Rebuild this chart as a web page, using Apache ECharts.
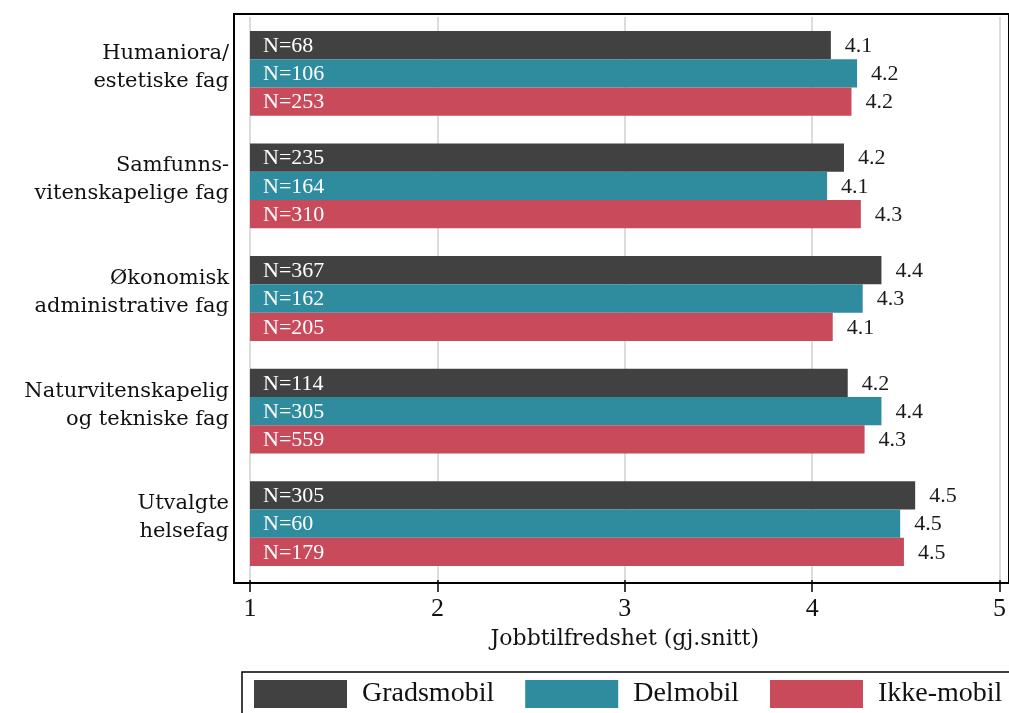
<!DOCTYPE html>
<html>
<head>
<meta charset="utf-8">
<script src="https://cdn.jsdelivr.net/npm/echarts@6/dist/echarts.min.js"></script>
<style>
  html, body { margin: 0; padding: 0; background: #fff; }
  #container { width: 1009px; height: 713px; }
</style>
</head>
<body>
<div id="container"></div>
<script>
// categories (top to bottom)
var categories = ['Humaniora/\nestetiske fag', 'Samfunns-\nvitenskapelige fag', 'Økonomisk\nadministrative fag', 'Naturvitenskapelig\nog tekniske fag', 'Utvalgte\nhelsefag'];
var groupNames = ['Gradsmobil', 'Delmobil', 'Ikke-mobil'];
var groupColors = ['#414141', '#2e8c9e', '#c84a5b'];

// mean job satisfaction per group
var gradsmobil = [4.10, 4.17, 4.37, 4.19, 4.55];
var delmobil   = [4.24, 4.08, 4.27, 4.37, 4.47];
var ikkemobil  = [4.21, 4.26, 4.11, 4.28, 4.49];

// number of respondents
var nGradsmobil = [68, 235, 367, 114, 305];
var nDelmobil   = [106, 164, 162, 305, 60];
var nIkkemobil  = [253, 310, 205, 559, 179];

var xTicks = [1, 2, 3, 4, 5];
var xName = 'Jobbtilfredshet (gj.snitt)';

var font = '"Liberation Serif"';
var wideFont = '"DejaVu Serif"';
var base = 1;

var values = [gradsmobil, delmobil, ikkemobil];
var counts = [nGradsmobil, nDelmobil, nIkkemobil];

function makeSeries(k) {
    var data = [];
    categories.forEach(function (c, i) {
        data.push([i, values[k][i], counts[k][i]]);
    });
    return {
        name: groupNames[k],
        type: 'custom',
        xAxisIndex: 0,
        yAxisIndex: 0,
        itemStyle: { color: groupColors[k] },
        encode: { x: 1, y: 0 },
        data: data,
        renderItem: function (params, api) {
            var cat = api.value(0);
            var val = api.value(1);
            var n = api.value(2);
            var start = api.coord([base, cat]);
            var end = api.coord([val, cat]);
            var band = api.size([0, 1])[1];
            var bh = band * 0.251;
            var yc = start[1] + (k - 1) * bh;
            return {
                type: 'group',
                children: [{
                    type: 'rect',
                    shape: { x: start[0], y: yc - bh / 2, width: end[0] - start[0], height: bh },
                    style: { fill: groupColors[k] }
                }, {
                    type: 'text',
                    style: {
                        text: 'N=' + n,
                        x: start[0] + 13, y: yc + 1,
                        verticalAlign: 'middle',
                        fill: '#ffffff',
                        font: '22px ' + font
                    }
                }, {
                    type: 'text',
                    style: {
                        text: val.toFixed(1),
                        x: end[0] + 14, y: yc + 1,
                        verticalAlign: 'middle',
                        fill: '#1a1a1a',
                        font: '22px ' + font
                    }
                }]
            };
        }
    };
}

var myChart = echarts.init(document.getElementById('container'));

var option = {
    animation: false,
    textStyle: { fontFamily: font },
    grid: [{
        left: 250, right: 9, top: 17, bottom: 133
    }, {
        left: 234, width: 820, top: 14, bottom: 130,
        show: true, borderColor: '#000', borderWidth: 2, backgroundColor: 'transparent'
    }],
    legend: {
        data: groupNames,
        left: 242,
        top: 672,
        width: 770,
        padding: [8, 12, 30, 12],
        itemWidth: 93,
        itemHeight: 28,
        itemGap: 31,
        icon: 'rect',
        borderColor: '#000',
        borderWidth: 1.5,
        textStyle: { fontFamily: font, fontSize: 28, color: '#111', padding: [0, 0, 0, 10] }
    },
    xAxis: [{
        gridIndex: 0,
        type: 'value',
        min: xTicks[0],
        max: xTicks[xTicks.length - 1],
        interval: 1,
        axisLine: { show: false },
        axisTick: { show: true, length: 12, lineStyle: { color: '#000', width: 1.5 } },
        axisLabel: { fontFamily: font, fontSize: 26, color: '#111', margin: 16 },
        splitLine: { show: true, lineStyle: { color: '#dcdcdc', width: 2 } },
        name: xName,
        nameLocation: 'middle',
        nameGap: 48,
        nameTextStyle: { fontFamily: wideFont, fontSize: 22, color: '#111' }
    }, {
        gridIndex: 1, type: 'value', show: false
    }],
    yAxis: [{
        gridIndex: 0,
        type: 'category',
        inverse: true,
        data: categories,
        axisLine: { show: false },
        axisTick: { show: false },
        axisLabel: {
            align: 'right', margin: 21,
            formatter: function (v) {
                return v.split('\n').map(function (s) { return '{a|' + s + '}'; }).join('\n') + '\n{s| }';
            },
            rich: {
                a: { fontFamily: wideFont, fontSize: 21, color: '#111', lineHeight: 28, align: 'right' },
                s: { fontSize: 1, lineHeight: 12 }
            }
        },
        splitLine: { show: false }
    }, {
        gridIndex: 1, type: 'value', show: false
    }],
    series: [makeSeries(0), makeSeries(1), makeSeries(2)]
};

myChart.setOption(option);
</script>
</body>
</html>
